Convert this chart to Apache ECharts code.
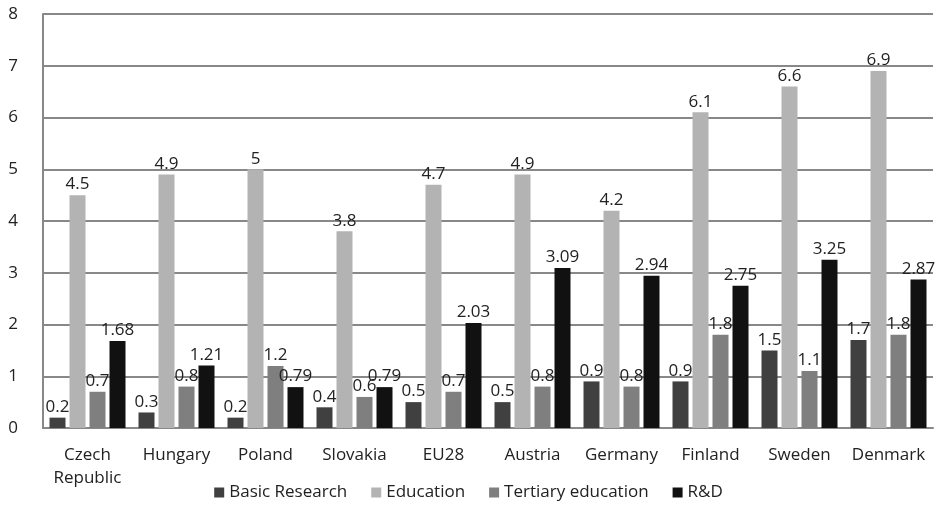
<!DOCTYPE html>
<html><head><meta charset="utf-8">
<script src="https://cdn.jsdelivr.net/npm/echarts@6/dist/echarts.min.js"></script>
<style>html,body{margin:0;padding:0;background:#fff}#c{width:937px;height:510px}</style>
</head><body><div id="c"></div>
<script>
const categories = ['Czech\nRepublic','Hungary','Poland','Slovakia','EU28','Austria','Germany','Finland','Sweden','Denmark'];
const basicResearch = [0.2,0.3,0.2,0.4,0.5,0.5,0.9,0.9,1.5,1.7];
const education = [4.5,4.9,5,3.8,4.7,4.9,4.2,6.1,6.6,6.9];
const tertiary = [0.7,0.8,1.2,0.6,0.7,0.8,0.8,1.8,1.1,1.8];
const rnd = [1.68,1.21,0.79,0.79,2.03,3.09,2.94,2.75,3.25,2.87];
const seriesNames = ['Basic Research','Education','Tertiary education','R&D'];
const colors = ['#404040','#b3b3b3','#7f7f7f','#111111'];
const font = 'Open Sans';
const chart = echarts.init(document.getElementById('c'));
const mk = (name, data, color) => ({
  name, type:'bar', data, barWidth:16, barGap:'25%',
  itemStyle:{color},
  label:{show:true, position:'top', distance:2, color:'#222', fontSize:17, fontFamily:font}
});
chart.setOption({
  animation:false,
  grid:{left:43, right:4, top:14, bottom:82},
  legend:{bottom:4, left:'center', itemWidth:10, itemHeight:10, itemGap:24,
    textStyle:{fontSize:17, color:'#222', fontFamily:font},
    data:seriesNames.map(n=>({name:n, icon:'rect'}))},
  xAxis:{type:'category', data:categories,
    axisLine:{lineStyle:{color:'#888', width:2}}, axisTick:{show:false},
    axisLabel:{fontSize:17, color:'#222', fontFamily:font, margin:16, lineHeight:23, interval:0}},
  yAxis:{type:'value', min:0, max:8, interval:1,
    axisLine:{show:true, lineStyle:{color:'#888', width:2}},
    axisTick:{show:false},
    splitLine:{lineStyle:{color:'#888', width:2}},
    axisLabel:{fontSize:17, color:'#222', fontFamily:font, margin:25}},
  series:[mk(seriesNames[0],basicResearch,colors[0]),mk(seriesNames[1],education,colors[1]),
          mk(seriesNames[2],tertiary,colors[2]),mk(seriesNames[3],rnd,colors[3])]
});
</script></body></html>
